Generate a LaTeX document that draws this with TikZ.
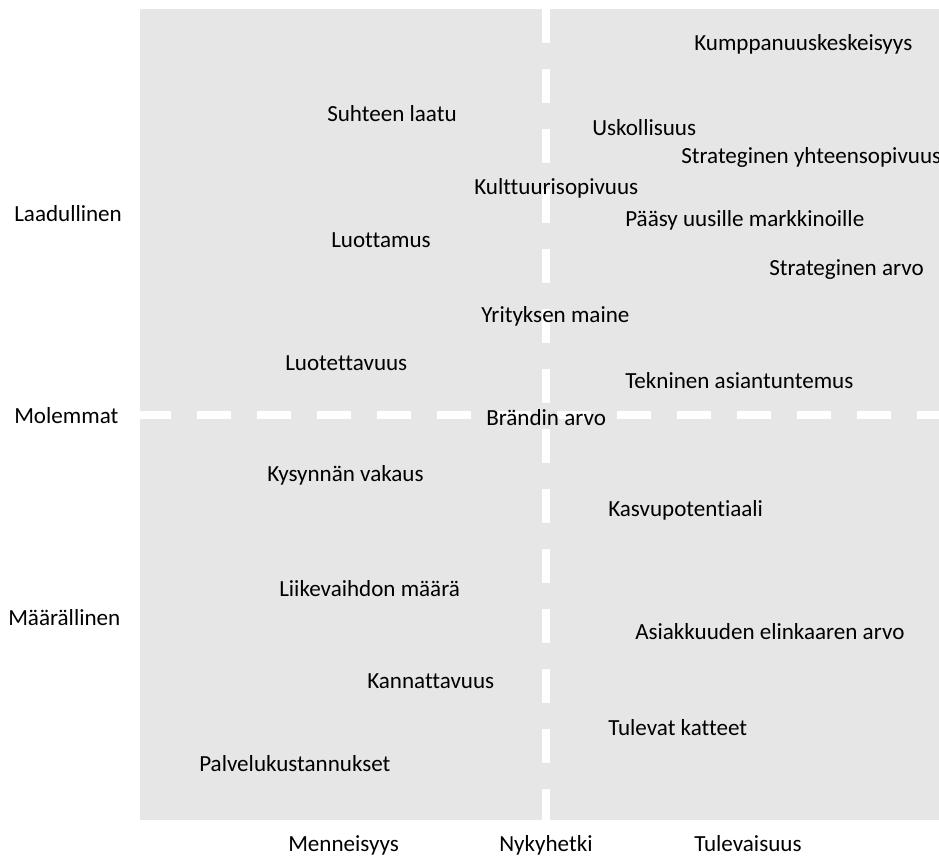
\documentclass[tikz,border=0pt]{standalone}
\usepackage{fontspec}
\setmainfont[Ligatures={NoCommon}]{Carlito}
\definecolor{panelgrey}{RGB}{230,230,230}
\tikzset{
  lbl/.style={anchor=base west,inner sep=0pt,font=\fontsize{17.3}{20}\selectfont},
  divider/.style={white,line width=6pt,dash pattern=on 25.5pt off 19.5pt}
}
\begin{document}
\begin{tikzpicture}[x=0.75pt,y=-0.75pt]
    \useasboundingbox (0,0) rectangle (939,856);
    \fill[panelgrey] (140,9) rectangle (939,820);
    % dividers
    \coordinate (vtop) at (546,9);
    \coordinate (vbot) at (546,820);
    \coordinate (hleft) at (137,414.5);
    \coordinate (hright) at (939,414.5);
    \draw[divider] (vtop) -- (vbot);
    \begin{scope}
      \clip (140,0) rectangle (939,856);
      \draw[divider] (hleft) -- (hright);
    \end{scope}
    % axis labels (positions are baselines)
    \foreach \x/\y/\t [count=\i] in {%
        14/221/Laadullinen,
        14/423/Molemmat,
        8/625/Määrällinen,
        288/851.5/Menneisyys,
        499/851.5/Nykyhetki,
        694/851.5/Tulevaisuus} {
      \node[lbl] (axis\i) at (\x,\y) {\t};
    }
    % factors
    \foreach \x/\y/\t [count=\i] in {%
        694/51/Kumppanuuskeskeisyys,
        327/122/Suhteen laatu,
        592/135/Uskollisuus,
        681/163/Strateginen yhteensopivuus,
        474/194/Kulttuurisopivuus,
        625/226/Pääsy uusille markkinoille,
        331/247/Luottamus,
        769/275/Strateginen arvo,
        481/322/Yrityksen maine,
        285/370/Luotettavuus,
        625/388/Tekninen asiantuntemus,
        486/425/Brändin arvo,
        267/481/Kysynnän vakaus,
        608/516/Kasvupotentiaali,
        279/596/Liikevaihdon määrä,
        635/639/Asiakkuuden elinkaaren arvo,
        367/688/Kannattavuus,
        608/735/Tulevat katteet,
        199/771/Palvelukustannukset} {
      \node[lbl] (factor\i) at (\x,\y) {\t};
    }
  \end{tikzpicture}
\end{document}
